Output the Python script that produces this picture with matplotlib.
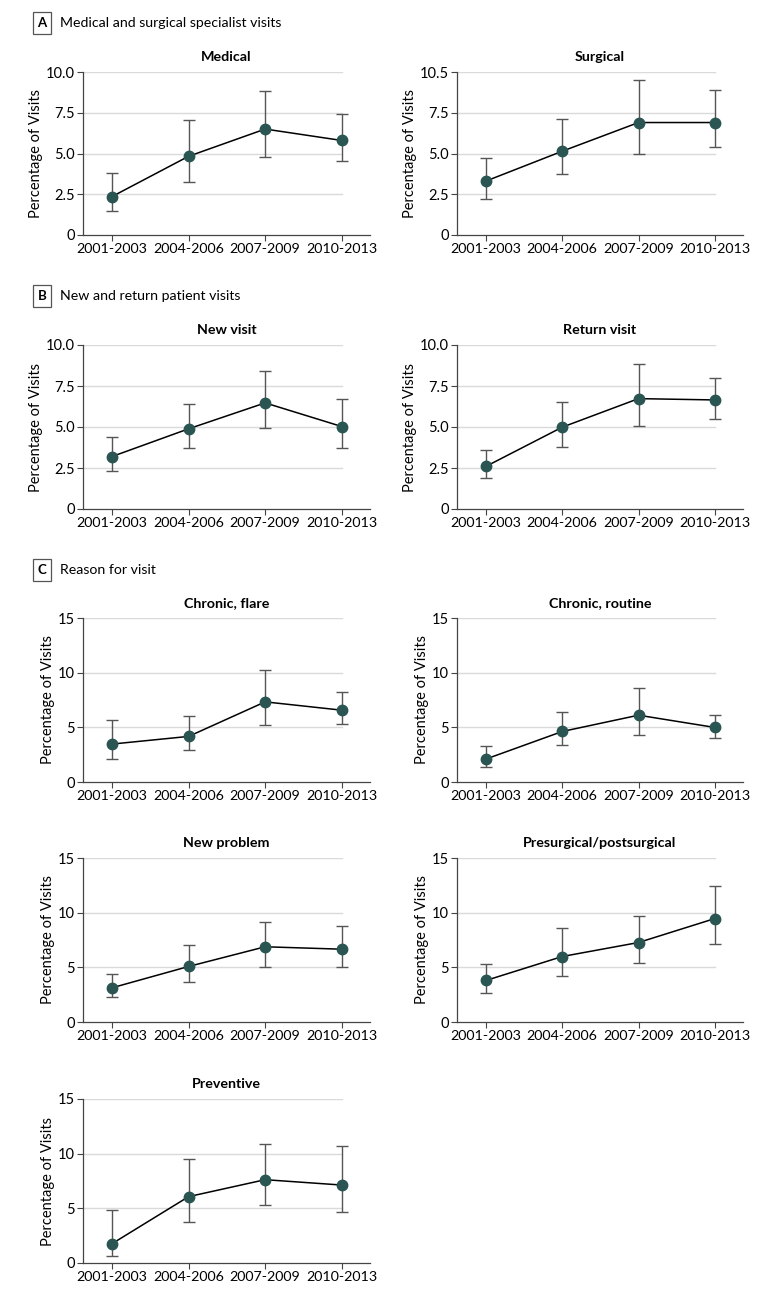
import matplotlib
matplotlib.use("Agg")
import matplotlib.pyplot as plt

plt.rcParams['font.family'] = ['Lato', 'DejaVu Sans']

periods = ["2001-2003", "2004-2006", "2007-2009", "2010-2013"]

medical = [2.36, 4.83, 6.50, 5.80]
medical_lo = [1.45, 3.28, 4.77, 4.52]
medical_hi = [3.83, 7.03, 8.82, 7.45]

surgical = [3.31, 5.14, 6.90, 6.90]
surgical_lo = [2.20, 3.73, 4.94, 5.39]
surgical_hi = [4.73, 7.14, 9.48, 8.88]

new_visit = [3.20, 4.89, 6.47, 5.03]
new_visit_lo = [2.31, 3.69, 4.95, 3.75]
new_visit_hi = [4.42, 6.41, 8.44, 6.73]

return_visit = [2.60, 4.99, 6.73, 6.65]
return_visit_lo = [1.87, 3.81, 5.07, 5.50]
return_visit_hi = [3.57, 6.53, 8.84, 7.99]

chronic_flare = [3.47, 4.17, 7.33, 6.57]
chronic_flare_lo = [2.07, 2.89, 5.20, 5.26]
chronic_flare_hi = [5.66, 6.02, 10.22, 8.27]

chronic_routine = [2.10, 4.62, 6.11, 4.99]
chronic_routine_lo = [1.37, 3.35, 4.32, 4.02]
chronic_routine_hi = [3.26, 6.39, 8.61, 6.11]

new_problem = [3.13, 5.08, 6.88, 6.66]
new_problem_lo = [2.28, 3.65, 5.02, 5.02]
new_problem_hi = [4.38, 7.03, 9.19, 8.76]

presurgical = [3.80, 5.99, 7.27, 9.46]
presurgical_lo = [2.65, 4.17, 5.39, 7.12]
presurgical_hi = [5.35, 8.58, 9.73, 12.47]

preventive = [1.77, 6.07, 7.62, 7.13]
preventive_lo = [0.61, 3.78, 5.30, 4.66]
preventive_hi = [4.88, 9.54, 10.88, 10.73]

ticks_10 = [0, 2.5, 5.0, 7.5, 10.0]
ticklabels_medical = ["0", "2.5", "5.0", "7.5", "10.0"]
ticklabels_surgical = ["0", "2.5", "5.0", "7.5", "10.5"]
ticks_15 = [0, 5, 10, 15]
ticklabels_15 = ["0", "5", "10", "15"]

W, H = 780, 1295
fig = plt.figure(figsize=(W / 100, H / 100), dpi=100)

cols = [(83, 370), (457, 743)]
rows = [(72, 235), (345, 509), (618, 782), (858, 1022), (1099, 1263)]

MARKER = "#2a5552"
ERR = "#555555"
GRID = "#dadada"
SPINE = "#444444"

def make_ax(r, c):
    x0, x1 = cols[c]
    y0, y1 = rows[r]
    return fig.add_axes([x0 / W, 1 - y1 / H, (x1 - x0) / W, (y1 - y0) / H])

def panel(ax, title, vals, lo, hi, yticks, ylabels, ymax):
    x = list(range(len(periods)))
    ax.set_xlim(-0.38, 3.37)
    ax.set_ylim(0, ymax)
    for t in yticks[1:]:
        ax.plot([-0.38, 3.0], [t, t], color=GRID, lw=1.0, zorder=0)
    yerr = [[v - l for v, l in zip(vals, lo)], [h - v for v, h in zip(vals, hi)]]
    ax.errorbar(x, vals, yerr=yerr, fmt="none", ecolor=ERR, elinewidth=1.0,
                capsize=4.3, capthick=1.0, zorder=2)
    ax.plot(x, vals, color="black", lw=1.1, zorder=3)
    ax.plot(x, vals, "o", color=MARKER, ms=7.5, mec=MARKER, zorder=4)
    ax.set_xticks(x)
    ax.set_xticklabels(periods, fontsize=10.3)
    ax.set_yticks(yticks)
    ax.set_yticklabels(ylabels, fontsize=10.5)
    ax.set_ylabel("Percentage of Visits", fontsize=10.5, labelpad=2)
    ax.set_title(title, fontsize=10.3, fontweight="bold", pad=8)
    for s in ["top", "right"]:
        ax.spines[s].set_visible(False)
    for s in ["left", "bottom"]:
        ax.spines[s].set_color(SPINE)
        ax.spines[s].set_linewidth(0.9)
    ax.tick_params(axis="both", colors=SPINE, length=4, width=0.8, labelcolor="black", pad=2)
    ax.set_facecolor("none")

panel(make_ax(0, 0), "Medical", medical, medical_lo, medical_hi, ticks_10, ticklabels_medical, 10)
panel(make_ax(0, 1), "Surgical", surgical, surgical_lo, surgical_hi, ticks_10, ticklabels_surgical, 10)
panel(make_ax(1, 0), "New visit", new_visit, new_visit_lo, new_visit_hi, ticks_10, ticklabels_medical, 10)
panel(make_ax(1, 1), "Return visit", return_visit, return_visit_lo, return_visit_hi, ticks_10, ticklabels_medical, 10)
panel(make_ax(2, 0), "Chronic, flare", chronic_flare, chronic_flare_lo, chronic_flare_hi, ticks_15, ticklabels_15, 15)
panel(make_ax(2, 1), "Chronic, routine", chronic_routine, chronic_routine_lo, chronic_routine_hi, ticks_15, ticklabels_15, 15)
panel(make_ax(3, 0), "New problem", new_problem, new_problem_lo, new_problem_hi, ticks_15, ticklabels_15, 15)
panel(make_ax(3, 1), "Presurgical/postsurgical", presurgical, presurgical_lo, presurgical_hi, ticks_15, ticklabels_15, 15)
panel(make_ax(4, 0), "Preventive", preventive, preventive_lo, preventive_hi, ticks_15, ticklabels_15, 15)

def header(letter, text, yc):
    fig.text(42 / W, 1 - yc / H, letter, fontsize=9.5, fontweight="bold", ha="center", va="center",
             bbox=dict(boxstyle="square,pad=0.35", fc="white", ec="#555555", lw=0.9))
    fig.text(60 / W, 1 - yc / H, text, fontsize=10.2, ha="left", va="center")

header("A", "Medical and surgical specialist visits", 23)
header("B", "New and return patient visits", 296)
header("C", "Reason for visit", 570)

fig.savefig("out.png", dpi=100, facecolor="white")
